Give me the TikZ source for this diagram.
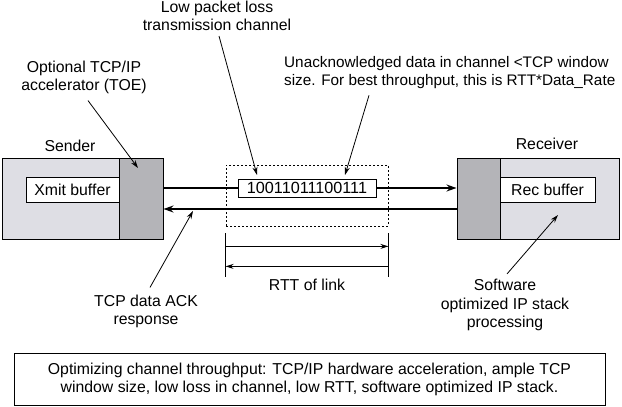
\documentclass[tikz,border=0pt]{standalone}
\usepackage{fontspec}
\setmainfont{Liberation Sans}
\usepackage{tikz}
\usetikzlibrary{arrows.meta, positioning, calc}
\definecolor{bodygray}{RGB}{222,222,228}
\definecolor{toegray}{RGB}{180,180,184}

\begin{document}
\begin{tikzpicture}[
    x=1pt, y=-1pt,
    every node/.style={font=\fontsize{15.8}{18}\selectfont, inner sep=2pt},
    hostbox/.style={draw, line width=1pt, fill=bodygray, minimum width=161pt,
      minimum height=81pt, inner sep=0pt},
    toebox/.style={draw, line width=1pt, fill=toegray, minimum width=44pt,
      minimum height=81pt, inner sep=0pt},
    bufbox/.style={draw, line width=0.9pt, fill=white, minimum height=25pt,
      inner sep=0pt},
    note/.style={align=center},
    link/.style={line width=1.5pt},
    linkarrow/.style={line width=1.5pt, -{Stealth[length=10pt, width=7pt]}},
    callout/.style={line width=0.8pt, -{Stealth[length=8pt, width=5pt]}},
    dim/.style={line width=0.9pt},
    dimarrow/.style={line width=0.9pt, -{Stealth[length=8pt, width=5pt]}}
]
\useasboundingbox (0,0) rectangle (622,407);

% Sender
\node[hostbox] (txbody) at (82.5,198.5) {};
\node[bufbox, minimum width=93pt] (xmit) at (72.5,189.5) {Xmit buffer};
\node[toebox] (txtoe) at (141,198.5) {};
\node (sendlbl) at (70,146) {Sender};

% Receiver
\node[hostbox, minimum width=162pt] (rxbody) at (538,198.5) {};
\node[bufbox, minimum width=95pt] (recbuf) at (547.5,189.5) {Rec buffer};
\node[toebox, minimum width=43pt] (rxtoe) at (478.5,198.5) {};
\node (recvlbl) at (547,143.5) {Receiver};

% Channel
\node[draw, dash pattern=on 2pt off 2pt, line width=0.8pt, minimum width=162pt,
  minimum height=61pt] (channel) at (307,195.5) {};
\node[draw, line width=0.9pt, fill=white, minimum width=138pt, minimum height=18pt,
  inner sep=0pt, font=\fontsize{16.2}{18}\selectfont] (bits) at (307,188) {10011011100111};

% Data and ACK paths
\coordinate (ret) at (0,209);
\draw[link] (bits.west) -- (bits.west -| txtoe.east);
\draw[linkarrow] (bits.east) -- (bits.east -| rxtoe.west);
\draw[linkarrow] (rxtoe.west |- ret) -- (txtoe.east |- ret);

% RTT of link
\draw[dim] ([yshift=-7pt]channel.south west) -- ([yshift=-51pt]channel.south west);
\draw[dim] ([yshift=-7pt]channel.south east) -- ([yshift=-51pt]channel.south east);
\draw[dimarrow] ([yshift=-20pt]channel.south west) -- ([yshift=-20pt]channel.south east);
\draw[dimarrow] ([yshift=-40pt]channel.south east) -- ([yshift=-40pt]channel.south west);
\node (rttlbl) at (307,285) {RTT of link};

% Notes
\node[note] (lossnote) at (217,16) {Low packet loss\\transmission channel};
\node[note] (toenote) at (84,77) {Optional TCP/IP\\accelerator (TOE)};
\node[align=left, anchor=west, font=\fontsize{15.3}{18}\selectfont] (unacknote) at (282,73)
  {Unacknowledged data in channel \textless TCP window\\size. For best throughput, this is RTT*Data\_Rate};
\node[note] (acknote) at (146,311) {TCP data ACK\\response};
\node[note, font=\fontsize{15.8}{18.5}\selectfont] (swnote) at (505,305)
  {Software\\optimized IP stack\\processing};

% Callout arrows
\coordinate (losstip) at (257,175);
\coordinate (toetip) at (138,168);
\coordinate (unacktip) at (345,175);
\coordinate (acktip) at (193,211);
\coordinate (swtip) at (558,215);
\draw[callout] ([xshift=2pt, yshift=-3pt]lossnote.south) -- (losstip);
\draw[callout] ([xshift=4pt, yshift=-5pt]toenote.south) -- (toetip);
\draw[callout] ([xshift=87pt, yshift=-4pt]unacknote.south west) -- (unacktip);
\draw[callout] ([xshift=4pt, yshift=5pt]acknote.north) -- (acktip);
\draw[callout] ([xshift=2pt, yshift=3pt]swnote.north) -- (swtip);

% Summary
\node[draw, line width=0.9pt, minimum width=591pt, minimum height=52pt, note]
  (summary) at (309.5,379) {Optimizing channel throughput: TCP/IP hardware acceleration, ample TCP\\window size, low loss in channel, low RTT, software optimized IP stack.};

\end{tikzpicture}
\end{document}
